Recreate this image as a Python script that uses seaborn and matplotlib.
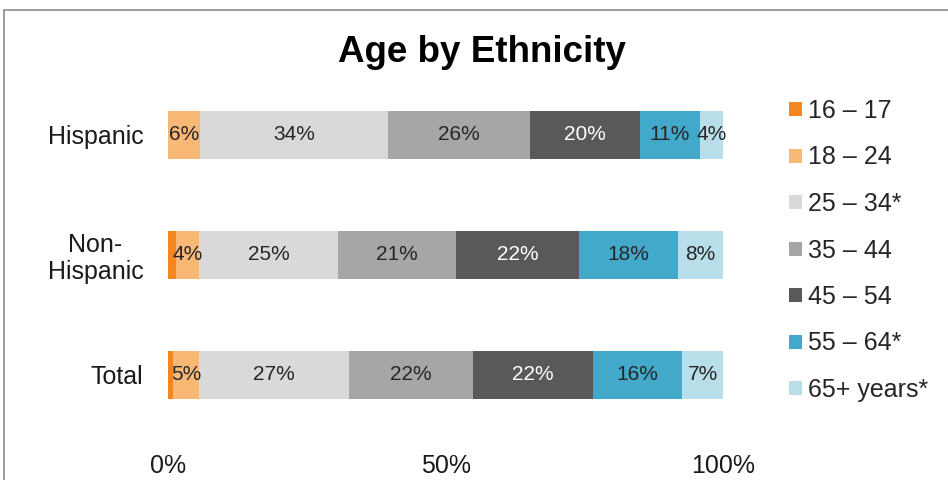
import matplotlib
matplotlib.use("Agg")
import matplotlib.pyplot as plt
from matplotlib.patches import Patch, Rectangle
import numpy as np
import pandas as pd
import seaborn as sns

# Share of each age band within each ethnicity group (percent)
groups = ["Hispanic", "Non-\nHispanic", "Total"]
age_bands = ["16 – 17", "18 – 24", "25 – 34*", "35 – 44", "45 – 54", "55 – 64*", "65+ years*"]
age_16_17 = [0.0, 1.4, 0.9]
age_18_24 = [5.7, 4.2, 4.7]
age_25_34 = [33.9, 24.9, 27.0]
age_35_44 = [25.6, 21.3, 22.3]
age_45_54 = [19.8, 22.2, 21.6]
age_55_64 = [10.8, 17.8, 16.1]
age_65_up = [4.2, 8.2, 7.4]

xticks = [0, 50, 100]
xtick_labels = ["0%", "50%", "100%"]

colors = ["#F5861F", "#FAB877", "#D9D9D9", "#A6A6A6", "#595959", "#43A9CA", "#B8DEEA"]
label_colors = [None, "#262626", "#262626", "#262626", "#FFFFFF", "#262626", "#262626"]

series = [age_16_17, age_18_24, age_25_34, age_35_44, age_45_54, age_55_64, age_65_up]

sns.set_theme(style="white")
plt.rcParams["font.family"] = ["Liberation Sans", "DejaVu Sans"]

fig = plt.figure(figsize=(9.48, 4.8), dpi=100)
W, H = 948, 480
ax = fig.add_axes([168.3 / W, (H - 434.5) / H, 555 / W, 360 / H])

values = np.array(series)            # shape (bands, groups)
ends = np.cumsum(values, axis=0)     # right edge of every segment
starts = ends - values

df = pd.DataFrame({"group": groups})
# Draw cumulative bars from the outermost band inward so they stack visually
for i in range(len(series) - 1, -1, -1):
    df["end"] = ends[i]
    sns.barplot(data=df, x="end", y="group", orient="h", order=groups,
                color=colors[i], saturation=1, width=0.4, linewidth=0,
                edgecolor="none", ax=ax)

# Percentage labels centred in each segment (the 16–17 band is too thin)
for i in range(1, len(series)):
    for j, g in enumerate(groups):
        v = values[i, j]
        ax.text((starts[i, j] + ends[i, j]) / 2, j, f"{v:.0f}%",
                ha="center", va="center", fontsize=15,
                color=label_colors[i])

ax.set_xlim(0, 100)
ax.set_ylim(2.5, -0.5)
ax.set_xticks(xticks)
ax.set_xticklabels(xtick_labels, fontsize=18, color="#1a1a1a")
ax.set_yticklabels(groups, fontsize=18, color="#1a1a1a", linespacing=1.15,
                   ha="right", multialignment="center")
ax.tick_params(axis="x", length=0, pad=14)
ax.tick_params(axis="y", length=0, pad=18)
ax.set_xlabel("")
ax.set_ylabel("")
for s in ax.spines.values():
    s.set_visible(False)
ax.grid(False)

fig.text(482 / W, 1 - 53 / H, "Age by Ethnicity", ha="center", va="center",
         fontsize=26.5, fontweight="bold", color="#000000")

handles = [Patch(facecolor=c, edgecolor="none") for c in colors]
fig.legend(handles, age_bands, loc="upper left",
           bbox_to_anchor=(789 / W, 1 - 99 / H), frameon=False,
           fontsize=18, handlelength=0.5, handleheight=0.5,
           handletextpad=0.25, labelspacing=0.9, borderpad=0,
           borderaxespad=0)

# Outer chart frame
fig.patches.append(Rectangle((4 / W, -0.1), 1.2, (H - 10) / H + 0.1,
                             transform=fig.transFigure, fill=False,
                             edgecolor="#8c8c8c", linewidth=1.2))

fig.savefig("out.png", dpi=100)
